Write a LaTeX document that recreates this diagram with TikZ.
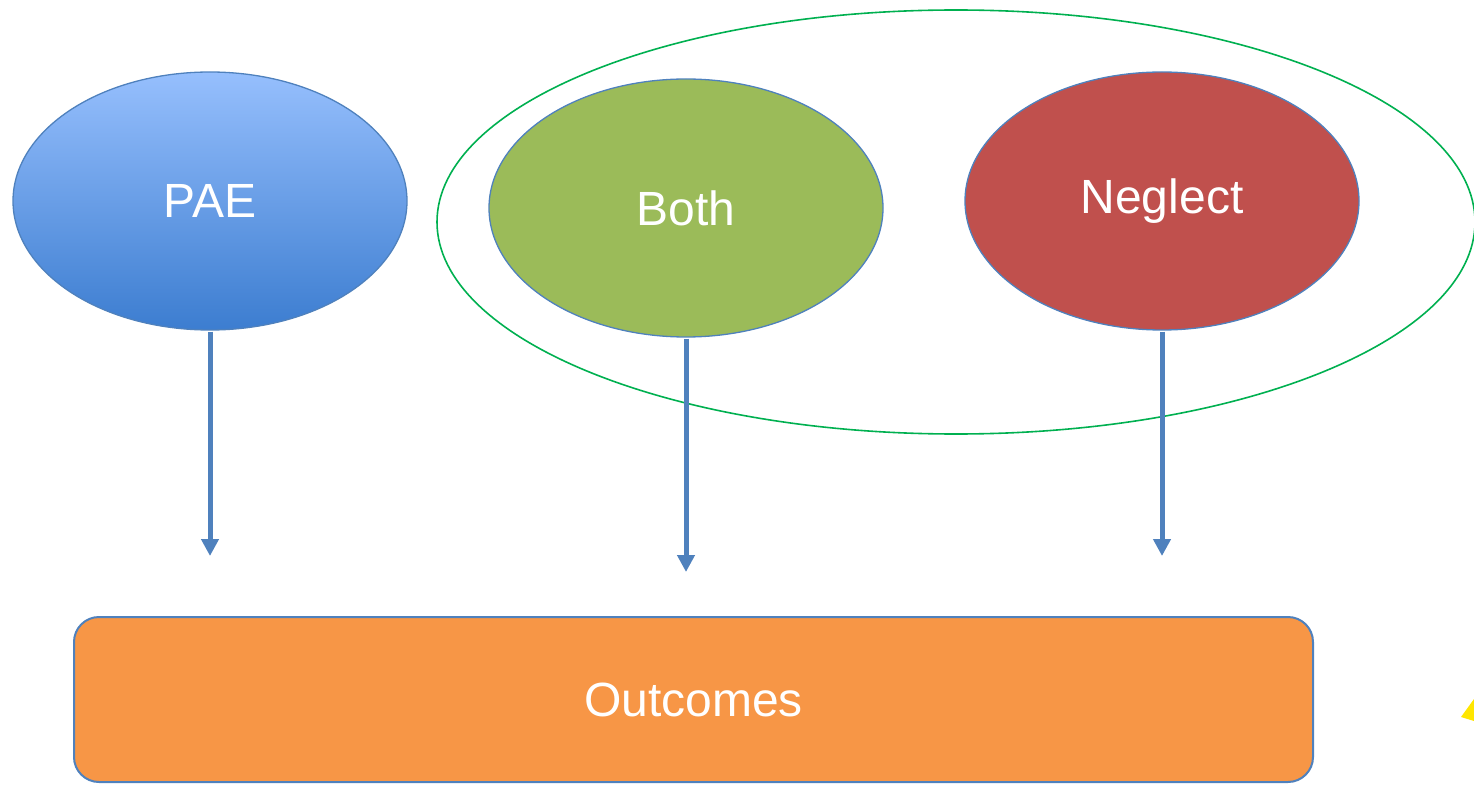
\documentclass[tikz,border=0pt]{standalone}
\usepackage{fontspec}
\setmainfont{Liberation Sans}
\usetikzlibrary{shapes.geometric,arrows.meta}
\definecolor{bordblue}{RGB}{79,129,189}
\definecolor{paetop}{RGB}{150,191,253}
\definecolor{paebot}{RGB}{60,125,208}
\definecolor{bothgreen}{RGB}{155,187,89}
\definecolor{negred}{RGB}{192,80,77}
\definecolor{outorange}{RGB}{247,150,70}
\definecolor{grpgreen}{RGB}{0,176,80}
\definecolor{tri}{RGB}{255,230,0}
\tikzset{
  oval/.style={ellipse, draw=bordblue, line width=1.3pt, minimum width=394pt, minimum height=258pt, inner sep=0pt, text=white, font=\fontsize{48}{56}\selectfont},
  flow/.style={draw=bordblue, line width=5pt, -{Triangle[width=17pt,length=17pt]}, shorten <=1pt},
}
\begin{document}
\begin{tikzpicture}[x=1pt,y=-1pt]
\useasboundingbox (0,0) rectangle (1474,786);
\node[ellipse, draw=grpgreen, line width=1.6pt, minimum width=1038pt, minimum height=424pt, inner sep=0pt] (grp) at (956,222) {};
\node[oval, top color=paetop, bottom color=paebot] (pae) at (210,201) {PAE};
\node[oval, fill=bothgreen] (both) at (686,208) {Both};
\node[oval, fill=negred] (neg) at (1162,201) {Neglect};
\node[draw=bordblue, line width=2pt, fill=outorange, rounded corners=25pt, minimum width=1239pt, minimum height=165pt, inner sep=0pt, text=white, font=\fontsize{48}{56}\selectfont] (out) at (693.5,699.5) {Outcomes};
\coordinate (e1) at (210,556);
\coordinate (e2) at (686,572);
\coordinate (e3) at (1162,556);
\draw[flow] (pae.south) -- (e1);
\draw[flow] (both.south) -- (e2);
\draw[flow] (neg.south) -- (e3);
\fill[tri] (1474,699) -- (1461,717) -- (1474,721) -- cycle;
\end{tikzpicture}
\end{document}
